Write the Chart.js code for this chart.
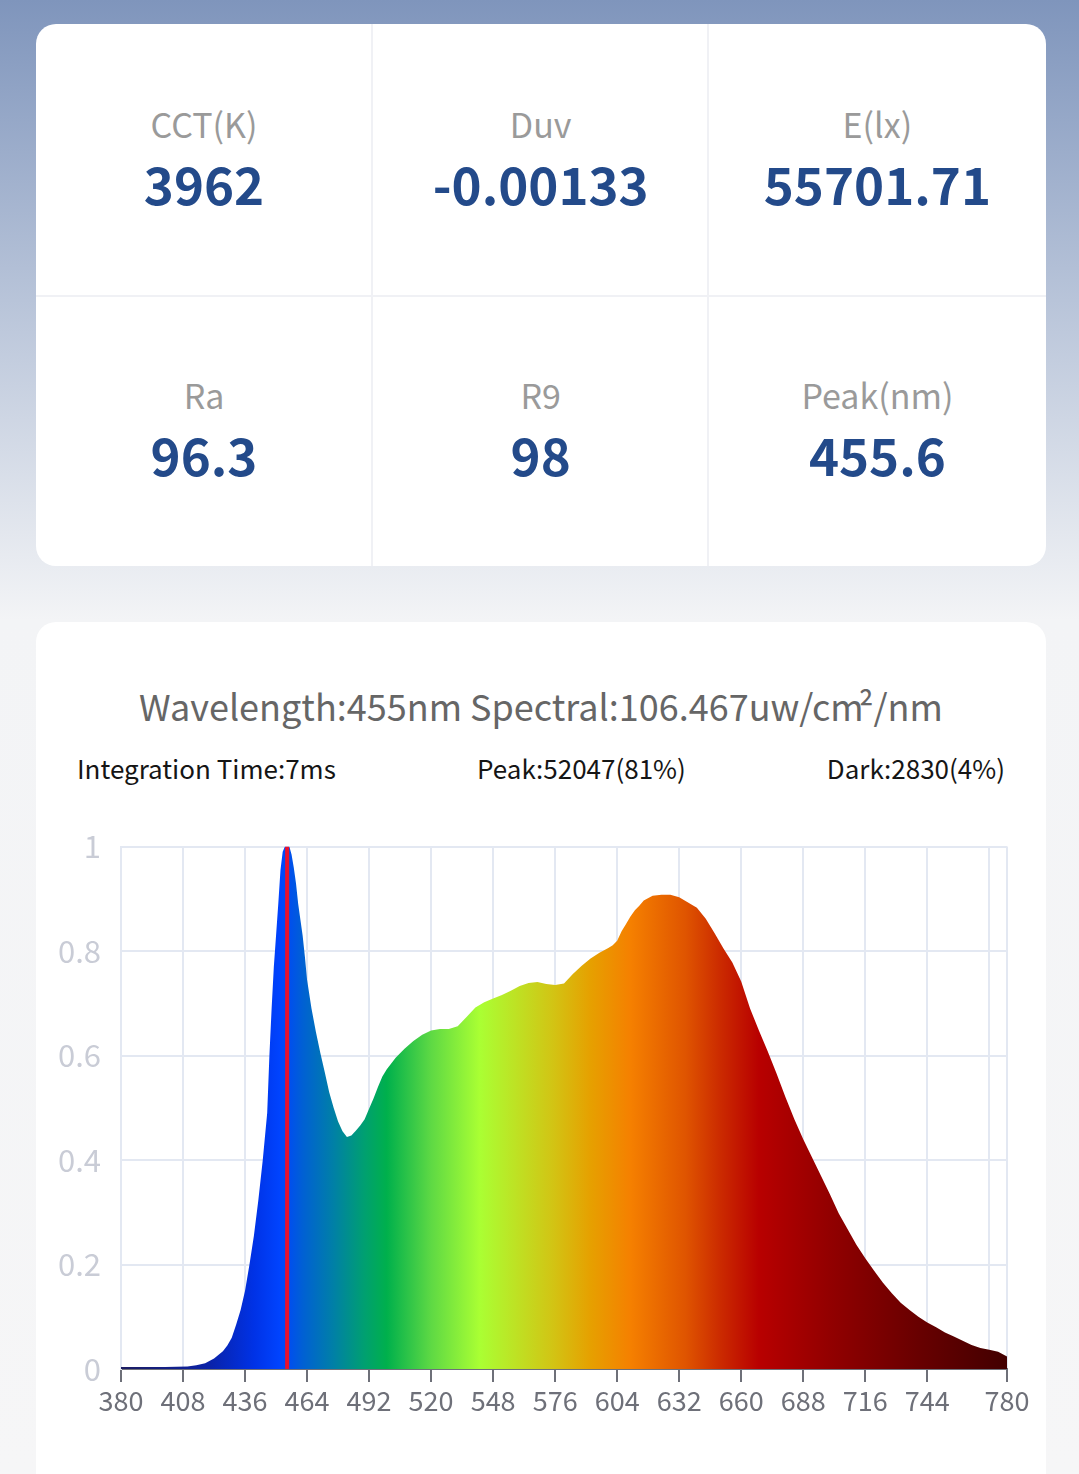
<!DOCTYPE html>
<html>
<head>
<meta charset="utf-8">
<title>Spectrum</title>
<script src="https://cdn.jsdelivr.net/npm/chart.js@4.4.1/dist/chart.umd.min.js"></script>
<style>
  html, body { margin: 0; padding: 0; }
  body {
    width: 1079px; height: 1474px; overflow: hidden; position: relative;
    font-family: "Noto Sans CJK SC", "Noto Sans", sans-serif;
    background: linear-gradient(to bottom, #7f95bc 0px, #b8c4d9 300px, #f3f4f6 620px, #f6f6f7 1474px);
  }
  .card { position: absolute; left: 36px; width: 1010px; background: #fff; border-radius: 20px; }
  #stats { top: 24px; height: 542px; overflow: hidden; }
  .cell { position: absolute; width: 336px; height: 271px; text-align: center; }
  .vline { position: absolute; top: 0; width: 2px; height: 542px; background: #f0f1f5; }
  .hline { position: absolute; left: 0; top: 271px; width: 1010px; height: 2px; background: #f0f1f5; }
  .lbl { position: absolute; left: 0; right: 0; top: 76px; font-size: 34px; line-height: 48px; color: #9a9a9a; }
  .val { position: absolute; left: 0; right: 0; top: 127px; font-size: 51px; line-height: 64px; color: #234a8a; font-weight: bold; }
  #spec { top: 622px; height: 900px; }
  #title { position: absolute; left: 0; right: 0; top: 57px; text-align: center; font-size: 36px; color: #666; }
  #title .sq { margin-left: -0.14em; }
  .sub { position: absolute; top: 127px; font-size: 26px; color: #151515; }
  #wrap { position: absolute; left: 36px; top: 808px; width: 1010px; height: 652px; }
</style>
</head>
<body>
<div class="card" id="stats"></div>
<div class="card" id="spec">
  <div id="title">Wavelength:455nm Spectral:106.467uw/cm<span class="sq">²</span>/nm</div>
  <div class="sub" style="left:41px">Integration Time:7ms</div>
  <div class="sub" style="left:441px">Peak:52047(81%)</div>
  <div class="sub" style="right:41px">Dark:2830(4%)</div>
</div>
<div id="wrap"><canvas id="chart"></canvas></div>
<script>
// metric tiles
const statNames = ['CCT(K)', 'Duv', 'E(lx)', 'Ra', 'R9', 'Peak(nm)'];
const statValues = ['3962', '-0.00133', '55701.71', '96.3', '98', '455.6'];

// spectrum, normalised
const waveNm = [380, 390, 400, 410, 414, 418, 422, 426, 428, 430, 432, 434, 436, 438, 440, 442, 444, 446, 447, 448, 449, 450, 451, 452, 453, 454, 456, 457, 458, 459, 460, 461, 462, 463, 464, 466, 468, 470, 472, 474, 476, 478, 480, 482, 484, 486, 488, 490, 492, 494, 496, 498, 500, 504, 508, 512, 516, 520, 524, 528, 532, 536, 540, 544, 548, 552, 556, 560, 564, 568, 572, 576, 580, 584, 588, 592, 596, 600, 602, 604, 606, 608, 610, 612, 614, 616, 620, 624, 628, 632, 636, 640, 644, 648, 652, 656, 660, 664, 668, 672, 676, 680, 684, 688, 692, 696, 700, 704, 708, 712, 716, 720, 724, 728, 732, 736, 740, 744, 748, 752, 756, 760, 764, 768, 772, 776, 780];
const intensity = [0.004, 0.004, 0.004, 0.005, 0.007, 0.011, 0.02, 0.034, 0.045, 0.06, 0.085, 0.113, 0.15, 0.2, 0.255, 0.323, 0.4, 0.49, 0.6, 0.69, 0.77, 0.83, 0.89, 0.955, 0.99, 1.0, 1.0, 0.985, 0.96, 0.93, 0.89, 0.86, 0.83, 0.79, 0.745, 0.69, 0.645, 0.605, 0.568, 0.53, 0.5, 0.474, 0.455, 0.444, 0.447, 0.456, 0.466, 0.478, 0.498, 0.518, 0.54, 0.56, 0.574, 0.596, 0.613, 0.628, 0.64, 0.648, 0.651, 0.651, 0.656, 0.674, 0.692, 0.702, 0.709, 0.716, 0.724, 0.733, 0.739, 0.741, 0.737, 0.735, 0.738, 0.756, 0.772, 0.786, 0.797, 0.806, 0.811, 0.82, 0.838, 0.852, 0.866, 0.878, 0.887, 0.897, 0.906, 0.908, 0.908, 0.903, 0.893, 0.883, 0.862, 0.834, 0.805, 0.778, 0.742, 0.69, 0.648, 0.608, 0.565, 0.52, 0.478, 0.44, 0.405, 0.37, 0.335, 0.298, 0.268, 0.238, 0.212, 0.188, 0.165, 0.145, 0.127, 0.113, 0.1, 0.089, 0.08, 0.07, 0.062, 0.054, 0.046, 0.04, 0.037, 0.033, 0.024];

const markerNm = 455;
const xTicks = [380, 408, 436, 464, 492, 520, 548, 576, 604, 632, 660, 688, 716, 744, 772, 780];
const hiddenTick = 772;

// colour ramp along the wavelength axis
const rampNm = [380, 420, 440, 452, 462, 476, 490, 500, 520, 542, 575, 592, 610, 635, 650, 668, 700, 740, 780];
const rampColors = ['#1c1c60', '#0a22a8', '#0032e6', '#0044ff', '#0060d4', '#0080a6', '#00a070', '#00b04c', '#5ed944', '#aaff33', '#d2c414', '#e6a000', '#f58000', '#df5400', '#cc2c00', '#b80000', '#920000', '#680000', '#420000'];

// build the tiles
const stats = document.getElementById('stats');
statNames.forEach((name, i) => {
    const col = i % 3, row = Math.floor(i / 3);
    const cell = document.createElement('div');
    cell.className = 'cell';
    cell.style.left = (col * 336.7) + 'px';
    cell.style.top = (row * 271) + 'px';
    cell.innerHTML = `<div class="lbl">${name}</div><div class="val">${statValues[i]}</div>`;
    stats.appendChild(cell);
});
stats.insertAdjacentHTML('beforeend',
    '<div class="vline" style="left:335px"></div><div class="vline" style="left:671px"></div><div class="hline"></div>');

Chart.defaults.font.family = '"Noto Sans CJK SC", "Noto Sans", sans-serif';

function rampFill(context) {
    const chart = context.chart;
    if (!chart.chartArea) return '#0044ff';
    const x = chart.scales.x;
    const x0 = x.getPixelForValue(380), x1 = x.getPixelForValue(780);
    const g = chart.ctx.createLinearGradient(x0, 0, x1, 0);
    rampNm.forEach((nm, i) => g.addColorStop((nm - 380) / 400, rampColors[i]));
    return g;
}

new Chart(document.getElementById('chart'), {
    type: 'line',
    data: {
        datasets: [{
            label: 'marker',
            data: [{ x: markerNm, y: 0 }, { x: markerNm, y: 1 }],
            borderColor: '#e8112d',
            borderWidth: 4,
            pointRadius: 0,
            fill: false
        }, {
            label: 'spectrum',
            data: waveNm.map((w, i) => ({ x: w, y: intensity[i] })),
            borderWidth: 0,
            borderColor: 'rgba(0,0,0,0)',
            backgroundColor: rampFill,
            pointRadius: 0,
            tension: 0,
            fill: 'origin'
        }]
    },
    options: {
        responsive: true,
        maintainAspectRatio: false,
        animation: false,
        layout: { padding: { left: 0, right: 39, top: 14, bottom: 30 } },
        plugins: { legend: { display: false }, tooltip: { enabled: false } },
        scales: {
            x: {
                type: 'linear',
                min: 380,
                max: 780,
                afterBuildTicks: scale => { scale.ticks = xTicks.map(v => ({ value: v })); },
                afterFit: scale => { scale.height = 61; },
                grid: {
                    color: '#e3e8f2',
                    lineWidth: 2,
                    drawTicks: true,
                    tickLength: 13,
                    tickWidth: 2,
                    tickColor: ctx => (ctx.tick && ctx.tick.value === hiddenTick) ? 'rgba(0,0,0,0)' : '#6e7079'
                },
                border: { color: '#6e7079', width: 2 },
                ticks: {
                    autoSkip: false,
                    maxRotation: 0,
                    padding: 3,
                    color: '#6e7079',
                    font: { size: 27 },
                    callback: v => v === hiddenTick ? '' : String(v)
                }
            },
            y: {
                min: 0,
                max: 1,
                afterFit: scale => { scale.width = 85; },
                grid: { color: '#e3e8f2', lineWidth: 2, drawTicks: false },
                border: { color: '#e3e8f2', width: 2 },
                ticks: {
                    stepSize: 0.2,
                    padding: 20,
                    color: '#c9ccd6',
                    font: { size: 31 },
                    callback: v => String(Math.round(v * 10) / 10)
                }
            }
        }
    }
});
</script>
</body>
</html>
